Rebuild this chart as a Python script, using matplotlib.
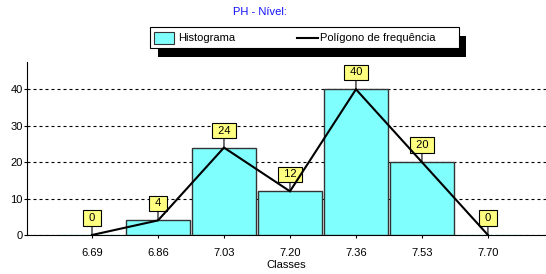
import matplotlib.pyplot as plt
from matplotlib.patches import Rectangle
from matplotlib.lines import Line2D

plt.rcParams['font.family'] = ['Liberation Sans', 'DejaVu Sans']
plt.rcParams['font.size'] = 8

# Data
classes = ['6.69', '6.86', '7.03', '7.20', '7.36', '7.53', '7.70']
freqs = [0, 4, 24, 12, 40, 20, 0]
title = 'PH - Nível:'
xlabel = 'Classes'
legend_labels = ['Histograma', 'Polígono de frequência']

bar_color = '#80FFFF'
box_color = '#FFFF80'

W, H = 546, 274
fig = plt.figure(figsize=(W / 100, H / 100), dpi=100)
fig.patch.set_facecolor('white')


def fx(px):
    return px / W


def fy(py):
    return 1 - py / H


ax = fig.add_axes([fx(27), fy(235), fx(546) - fx(27), fy(62) - fy(235)])
x = list(range(len(classes)))

edges = ['#333333' if f > 0 else bar_color for f in freqs]
ax.bar(x, freqs, width=0.97, color=bar_color, edgecolor=edges, linewidth=1, zorder=3)
ax.plot(x, freqs, color='black', lw=1.5, zorder=6, solid_joinstyle='miter')

for xi, f in zip(x, freqs):
    ax.annotate(f' {f} ', xy=(xi, f), xytext=(0, 17), textcoords='offset pixels',
                ha='center', va='center', fontsize=8, zorder=5,
                bbox=dict(boxstyle='square,pad=0.25', fc=box_color, ec='black', lw=0.8),
                arrowprops=dict(arrowstyle='-', color='black', lw=0.8, shrinkA=0, shrinkB=0))

ax.set_xlim(-0.985, 6.88)
ax.set_ylim(0, 47.5)
ax.set_xticks(x)
ax.set_xticklabels(classes)
ax.set_yticks([0, 10, 20, 30, 40])
ax.yaxis.grid(True, color='black', lw=0.8, linestyle=(0, (2.7, 2.7)), zorder=0)
ax.set_axisbelow(True)
ax.tick_params(axis='x', length=2.5, width=0.8, pad=7, colors='black')
ax.tick_params(axis='y', length=2, width=0.8, pad=1, colors='black')
ax.set_xlabel(xlabel, labelpad=1)
for s in ['top', 'right']:
    ax.spines[s].set_visible(False)
for s in ['left', 'bottom']:
    ax.spines[s].set_linewidth(0.8)
ax.patch.set_alpha(0)

fig.text(fx(260), fy(12), title, color='#1010FF', ha='center', va='center', fontsize=8)

# hand-made legend with a hard black shadow
fig.patches.append(Rectangle((fx(158), fy(57)), fx(466) - fx(158), fy(36) - fy(57),
                             transform=fig.transFigure, fc='black', ec='none', zorder=8))
fig.patches.append(Rectangle((fx(150), fy(48)), fx(459) - fx(150), fy(27) - fy(48),
                             transform=fig.transFigure, fc='white', ec='black', lw=0.8, zorder=9))
fig.patches.append(Rectangle((fx(154), fy(44)), fx(174) - fx(154), fy(32) - fy(44),
                             transform=fig.transFigure, fc=bar_color, ec='#333333', lw=0.8, zorder=10))
fig.text(fx(178), fy(38), legend_labels[0], ha='left', va='center', fontsize=8, zorder=10)
fig.lines.append(Line2D([fx(297), fx(318)], [fy(38), fy(38)], transform=fig.transFigure,
                        color='black', lw=1.5, zorder=10))
fig.text(fx(320), fy(38), legend_labels[1], ha='left', va='center', fontsize=8, zorder=10)

fig.savefig('out.png', dpi=100)
